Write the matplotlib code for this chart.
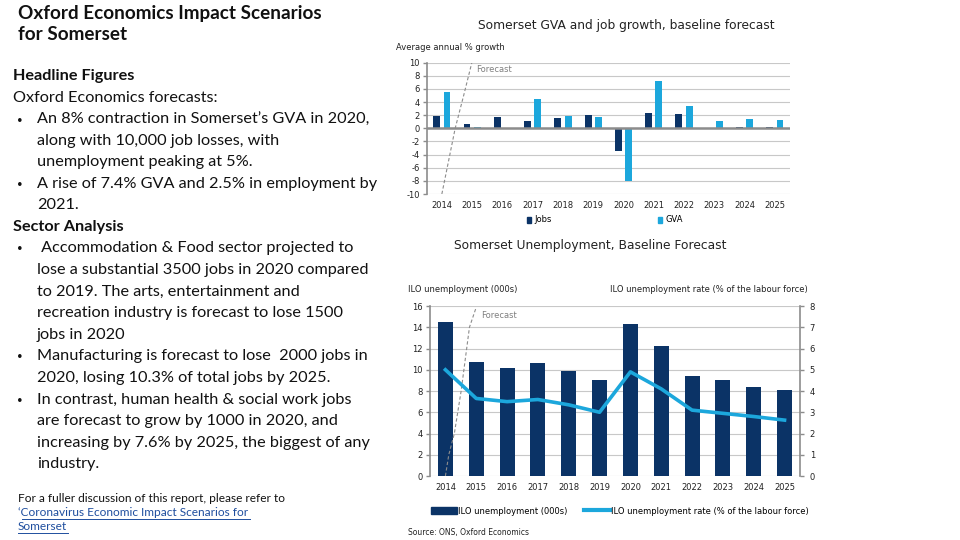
import matplotlib
matplotlib.use("Agg")
import matplotlib.pyplot as plt
import numpy as np
from matplotlib.patches import Patch
from matplotlib.lines import Line2D

plt.rcParams["axes.unicode_minus"] = False

years = ["2014", "2015", "2016", "2017", "2018", "2019", "2020", "2021", "2022", "2023", "2024", "2025"]

# GVA and job growth (% per year)
jobs_growth = [1.9, 0.7, 1.8, 1.1, 1.6, 2.1, -3.5, 2.4, 2.2, 0.1, 0.2, 0.2]
gva_growth = [5.6, 0.2, 0.0, 4.5, 1.9, 1.8, -8.0, 7.2, 3.4, 1.1, 1.5, 1.3]

# unemployment
unemp_000s = [14.5, 10.7, 10.2, 10.6, 9.9, 9.0, 14.3, 12.2, 9.4, 9.0, 8.4, 8.1]
unemp_rate = [5.0, 3.65, 3.5, 3.6, 3.35, 3.0, 4.9, 4.1, 3.1, 2.95, 2.8, 2.63]

NAVY = "#0B3366"
CYAN = "#1CA7DC"
GRID = "#C8C8C8"
AXC = "#8C8C8C"
TXT = "#222222"

fig = plt.figure(figsize=(9.6, 5.4), dpi=100)

# ---------------- left text panel ----------------
body_font = "Lato"
fig.text(18 / 960, 1 - 13 / 540, "Oxford Economics Impact Scenarios", fontsize=13.6,
         fontweight="bold", family=body_font, va="center", color="#111111")
fig.text(18 / 960, 1 - 35 / 540, "for Somerset", fontsize=13.6,
         fontweight="bold", family=body_font, va="center", color="#111111")

lines = [
    (13, 76, "Headline Figures", True, False),
    (13, 98, "Oxford Economics forecasts:", False, False),
    (37, 120, "An 8% contraction in Somerset\u2019s GVA in 2020,", False, True),
    (37, 141, "along with 10,000 job losses, with", False, False),
    (37, 162, "unemployment peaking at 5%.", False, False),
    (37, 184, "A rise of 7.4% GVA and 2.5% in employment by", False, True),
    (37, 205, "2021.", False, False),
    (13, 227, "Sector Analysis", True, False),
    (37, 248, " Accommodation & Food sector projected to", False, True),
    (37, 270, "lose a substantial 3500 jobs in 2020 compared", False, False),
    (37, 292, "to 2019. The arts, entertainment and", False, False),
    (37, 313, "recreation industry is forecast to lose 1500", False, False),
    (37, 335, "jobs in 2020", False, False),
    (37, 356, "Manufacturing is forecast to lose  2000 jobs in", False, True),
    (37, 378, "2020, losing 10.3% of total jobs by 2025.", False, False),
    (37, 400, "In contrast, human health & social work jobs", False, True),
    (37, 421, "are forecast to grow by 1000 in 2020, and", False, False),
    (37, 443, "increasing by 7.6% by 2025, the biggest of any", False, False),
    (37, 464, "industry.", False, False),
]
for x, y, s, bold, bullet in lines:
    fig.text(x / 960, 1 - y / 540, s, fontsize=11.7, family=body_font,
             fontweight="bold" if bold else "normal", va="center", color="#111111")
    if bullet:
        fig.text(17 / 960, 1 - y / 540, "\u2022", fontsize=7, family=body_font,
                 va="center", color="#111111")

fig.text(18 / 960, 1 - 498 / 540, "For a fuller discussion of this report, please refer to",
         fontsize=8.6, family=body_font, va="center", color="#111111")
fig.text(18 / 960, 1 - 513 / 540, "\u2018Coronavirus Economic Impact Scenarios for",
         fontsize=8.6, family=body_font, va="center", color="#1F4E9E")
fig.text(18 / 960, 1 - 527 / 540, "Somerset",
         fontsize=8.6, family=body_font, va="center", color="#1F4E9E")
fig.add_artist(Line2D([22 / 960, 250 / 960], [1 - 519 / 540] * 2, color="#1F4E9E", lw=0.7))
fig.add_artist(Line2D([18 / 960, 68 / 960], [1 - 533 / 540] * 2, color="#1F4E9E", lw=0.7))

x = np.arange(len(years))

# ---------------- chart 1: GVA and job growth ----------------
ax1 = fig.add_axes([0.4445, 0.6407, 0.3784, 0.2432])
w = 0.23
ax1.bar(x - 0.17, jobs_growth, w, color=NAVY, label="Jobs", zorder=3)
ax1.bar(x + 0.17, gva_growth, w, color=CYAN, label="GVA", zorder=3)
ax1.set_xlim(-0.5, 11.5)
ax1.set_ylim(-10, 10)
ax1.set_yticks(range(-10, 11, 2))
ax1.set_xticks(x)
ax1.set_xticklabels(years)
ax1.grid(axis="y", color=GRID, lw=0.8, zorder=0)
ax1.axhline(0, color=AXC, lw=1.8, zorder=4)
for s in ["top", "right", "bottom"]:
    ax1.spines[s].set_visible(False)
ax1.spines["left"].set_color(AXC)
ax1.spines["left"].set_linewidth(1.2)
ax1.tick_params(axis="y", colors=AXC, labelcolor=TXT, labelsize=6, length=3, width=1, pad=2)
ax1.tick_params(axis="x", length=0, labelsize=6, labelcolor=TXT, pad=5)
# forecast guide
fy1 = [-10, -5, 0, 5, 10]
fx1 = [0.0, 0.22, 0.44, 0.72, 0.99]
ax1.plot(fx1, fy1, color="#8C8C8C", ls=(0, (3, 2)), lw=0.8, zorder=5)
ax1.text(1.12, 9.0, "Forecast", fontsize=6, color="#7F7F7F", va="center")
fig.text(626 / 960, 1 - 25 / 540, "Somerset GVA and job growth, baseline forecast",
         fontsize=8.8, ha="center", va="center", color=TXT)
fig.text(396 / 960, 1 - 47 / 540, "Average annual % growth", fontsize=6, va="center", color=TXT)
ax1.legend(handles=[Patch(color=NAVY, label="Jobs"), Patch(color=CYAN, label="GVA")],
           loc="center", bbox_to_anchor=(605 / 960, 1 - 220 / 540), bbox_transform=fig.transFigure,
           ncol=2, frameon=False, fontsize=6, handlelength=0.5, handleheight=0.7,
           handletextpad=0.4, columnspacing=12.7)

# ---------------- chart 2: unemployment ----------------
ax2 = fig.add_axes([0.4479, 0.1185, 0.3854, 0.3148])
ax2.bar(x, unemp_000s, 0.49, color=NAVY, zorder=3)
ax2.set_xlim(-0.5, 11.5)
ax2.set_ylim(0, 16)
ax2.set_yticks(range(0, 17, 2))
ax2.set_xticks(x)
ax2.set_xticklabels(years)
ax2.grid(axis="y", color=GRID, lw=0.8, zorder=0)
for s in ["top", "bottom", "right"]:
    ax2.spines[s].set_visible(False)
ax2.spines["left"].set_color(AXC)
ax2.spines["left"].set_linewidth(1.2)
ax2.tick_params(axis="y", colors=AXC, labelcolor=TXT, labelsize=6, length=3, width=1, pad=2)
ax2.tick_params(axis="x", length=0, labelsize=6, labelcolor=TXT, pad=5)

ax3 = ax2.twinx()
ax3.plot(x, unemp_rate, color=CYAN, lw=2.6, zorder=6)
ax3.set_ylim(0, 8)
ax3.set_yticks(range(0, 9))
for s in ["top", "bottom", "left"]:
    ax3.spines[s].set_visible(False)
ax3.spines["right"].set_color(AXC)
ax3.spines["right"].set_linewidth(1.2)
ax3.tick_params(axis="y", colors=AXC, labelcolor=TXT, labelsize=6, length=3, width=1, pad=4)

fy2 = [0, 2, 4, 8, 14, 15.8]
fx2 = [0.0, 0.11, 0.29, 0.51, 0.78, 0.99]
ax2.plot(fx2, fy2, color="#8C8C8C", ls=(0, (3, 2)), lw=0.8, zorder=5)
ax2.text(1.15, 15.1, "Forecast", fontsize=6, color="#7F7F7F", va="center")

fig.text(590 / 960, 1 - 246 / 540, "Somerset Unemployment, Baseline Forecast",
         fontsize=8.8, ha="center", va="center", color=TXT)
fig.text(408 / 960, 1 - 290 / 540, "ILO unemployment (000s)", fontsize=6, va="center", color=TXT)
fig.text(808 / 960, 1 - 290 / 540, "ILO unemployment rate (% of the labour force)", fontsize=6,
         ha="right", va="center", color=TXT)
ax2.legend(handles=[Patch(color=NAVY, label="ILO unemployment (000s)"),
                    Line2D([0], [0], color=CYAN, lw=3, label="ILO unemployment rate (% of the labour force)")],
           loc="center", bbox_to_anchor=(620 / 960, 1 - 511 / 540), bbox_transform=fig.transFigure,
           ncol=2, frameon=False, fontsize=6, handlelength=3.1, handleheight=0.9,
           handletextpad=0.1, columnspacing=2)
fig.text(408 / 960, 1 - 532 / 540, "Source: ONS, Oxford Economics", fontsize=5.5, va="center", color=TXT)

fig.savefig("out.png", dpi=100)
